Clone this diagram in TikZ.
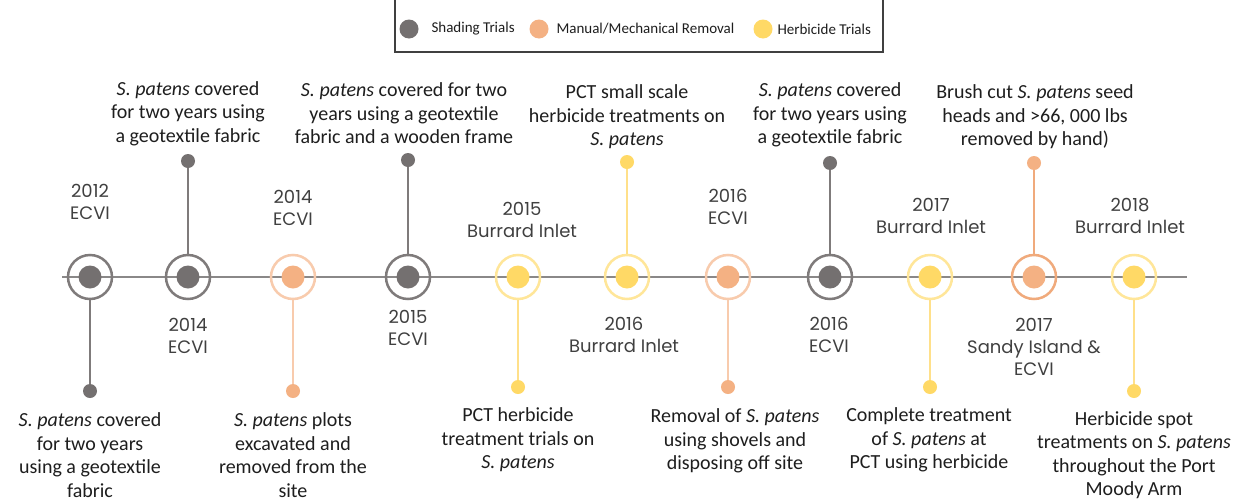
\documentclass[tikz,border=0pt]{standalone}
\usepackage{fontspec}
\setmainfont{Carlito}
\newfontfamily\yrfont{Poppins}
\definecolor{gdot}{HTML}{747070}
\definecolor{gring}{HTML}{7F7B7B}
\definecolor{pdot}{HTML}{F4B183}
\definecolor{pring}{HTML}{F8CBAD}
\definecolor{pringd}{HTML}{F0AA7C}
\definecolor{ydot}{HTML}{FFD966}
\definecolor{yring}{HTML}{FFE699}
\definecolor{ystem}{HTML}{FFE08A}
\definecolor{tline}{HTML}{8A8888}
\definecolor{txt}{HTML}{1E1E1E}
\begin{document}
\begin{tikzpicture}[x=1pt,y=-1pt,
  ring/.style={circle, draw, line width=2.5pt, minimum size=44pt, inner sep=0pt},
  core/.style={circle, fill, minimum size=23pt, inner sep=0pt},
  tip/.style={circle, fill, minimum size=14pt, inner sep=0pt},
  stem/.style={line width=2pt},
  desc/.style={align=center, text=txt, font=\fontsize{20}{23.5}\selectfont},
  yr/.style={align=center, text=txt!85, font=\fontsize{18}{22}\yrfont},
  leg/.style={anchor=west, text=txt, font=\fontsize{15}{17}\selectfont},
  legdot/.style={circle, fill, minimum size=19pt, inner sep=0pt}]
\useasboundingbox (0,0) rectangle (1242,501);
\fill[white] (0,0) rectangle (1242,501);
% legend
\coordinate (lb1) at (395,0);
\coordinate (lb2) at (395,52);
\coordinate (lb3) at (883,52);
\coordinate (lb4) at (883,0);
\draw[line width=1.2pt, black!75] (lb1) -- (lb2) -- (lb3) -- (lb4);
\node[legdot, fill=gdot] (lg1) at (409,29) {};
\node[leg] (lt1) at (428,29) {Shading Trials};
\node[legdot, fill=pdot] (lg2) at (539,29) {};
\node[leg] (lt2) at (553,29) {Manual/Mechanical Removal};
\node[legdot, fill=ydot] (lg3) at (763,29) {};
\node[leg] (lt3) at (774,29) {Herbicide Trials};
% timeline
\coordinate (tl0) at (62,277);
\coordinate (tl1) at (1187,277);
\draw[line width=2.5pt, tline] (tl0) -- (tl1);
% 1
\node[ring, draw=gring] (r1) at (90,277) {};
\node[core, fill=gdot] (c1) at (90,277) {};
\node[tip, fill=gdot] (t1) at (90,391) {};
\draw[stem, gring] (r1) -- (t1);
\node[yr] (y1) at (90,201.5) {2012\\ECVI};
\node[desc] (d1) at (90,455) {\textit{S. patens} covered\\for two years\\using a geotextile\\fabric};
% 2
\node[ring, draw=gring] (r2) at (188,277) {};
\node[core, fill=gdot] (c2) at (188,277) {};
\node[tip, fill=gdot] (t2) at (188,161) {};
\draw[stem, gring] (r2) -- (t2);
\node[yr] (y2) at (188,336) {2014\\ECVI};
\node[desc] (d2) at (188,113.5) {\textit{S. patens} covered\\for two years using\\a geotextile fabric};
% 3
\node[ring, draw=pring] (r3) at (293,277) {};
\node[core, fill=pdot] (c3) at (293,277) {};
\node[tip, fill=pdot] (t3) at (293,391) {};
\draw[stem, pring] (r3) -- (t3);
\node[yr] (y3) at (293,208) {2014\\ECVI};
\node[desc] (d3) at (293,455) {\textit{S. patens} plots\\excavated and\\removed from the\\site};
% 4
\node[ring, draw=gring] (r4) at (408,277) {};
\node[core, fill=gdot] (c4) at (408,277) {};
\node[tip, fill=gdot] (t4) at (408,160) {};
\draw[stem, gring] (r4) -- (t4);
\node[yr] (y4) at (408,328) {2015\\ECVI};
\node[desc] (d4) at (404,113.5) {\textit{S. patens} covered for two\\years using a geotextile\\fabric and a wooden frame};
% 5
\node[ring, draw=yring] (r5) at (518,277) {};
\node[core, fill=ydot] (c5) at (518,277) {};
\node[tip, fill=ydot] (t5) at (518,387) {};
\draw[stem, ystem] (r5) -- (t5);
\node[yr] (y5) at (522,219.5) {2015\\Burrard Inlet};
\node[desc] (d5) at (518,440) {PCT herbicide\\treatment trials on\\\textit{S. patens}};
% 6
\node[ring, draw=yring] (r6) at (627,277) {};
\node[core, fill=ydot] (c6) at (627,277) {};
\node[tip, fill=ydot] (t6) at (627,162) {};
\draw[stem, ystem] (r6) -- (t6);
\node[yr] (y6) at (624,335) {2016\\Burrard Inlet};
\node[desc] (d6) at (627,117) {PCT small scale\\herbicide treatments on\\\textit{S. patens}};
% 7
\node[ring, draw=pring] (r7) at (728,277) {};
\node[core, fill=pdot] (c7) at (728,277) {};
\node[tip, fill=pdot] (t7) at (728,387) {};
\draw[stem, pring] (r7) -- (t7);
\node[yr] (y7) at (728,206.5) {2016\\ECVI};
\node[desc] (d7) at (735,441) {Removal of \textit{S. patens}\\using shovels and\\disposing off site};
% 8
\node[ring, draw=gring] (r8) at (830,277) {};
\node[core, fill=gdot] (c8) at (830,277) {};
\node[tip, fill=gdot] (t8) at (830,163) {};
\draw[stem, gring] (r8) -- (t8);
\node[yr] (y8) at (829,335) {2016\\ECVI};
\node[desc] (d8) at (830,115) {\textit{S. patens} covered\\for two years using\\a geotextile fabric};
% 9
\node[ring, draw=yring] (r9) at (930,277) {};
\node[core, fill=ydot] (c9) at (930,277) {};
\node[tip, fill=ydot] (t9) at (930,387) {};
\draw[stem, ystem] (r9) -- (t9);
\node[yr] (y9) at (931,215.5) {2017\\Burrard Inlet};
\node[desc] (d9) at (929,440) {Complete treatment\\of \textit{S. patens} at\\PCT using herbicide};
% 10
\node[ring, draw=pringd] (r10) at (1034,277) {};
\node[core, fill=pdot] (c10) at (1034,277) {};
\node[tip, fill=pdot] (t10) at (1034,163) {};
\draw[stem, pringd] (r10) -- (t10);
\node[yr] (y10) at (1034,347) {2017\\Sandy Island \&\\ECVI};
\node[desc] (d10) at (1035,117) {Brush cut \textit{S. patens} seed\\heads and >66, 000 lbs\\removed by hand)};
% 11
\node[ring, draw=yring] (r11) at (1134,277) {};
\node[core, fill=ydot] (c11) at (1134,277) {};
\node[tip, fill=ydot] (t11) at (1134,391) {};
\draw[stem, ystem] (r11) -- (t11);
\node[yr] (y11) at (1130,216) {2018\\Burrard Inlet};
\node[desc] (d11) at (1134,455) {Herbicide spot\\treatments on \textit{S. patens}\\throughout the Port\\Moody Arm};
\end{tikzpicture}
\end{document}
